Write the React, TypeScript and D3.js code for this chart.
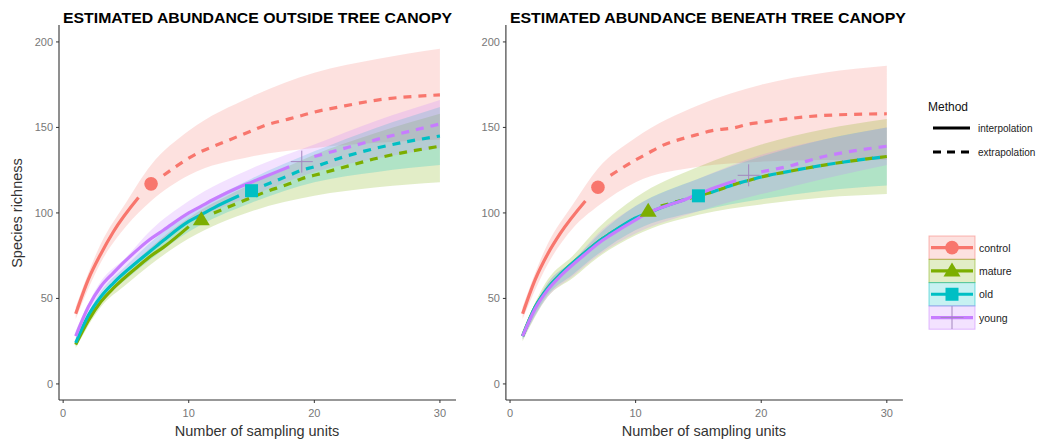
import * as d3 from "d3";

const sites = ["control", "mature", "old", "young"];
const siteColors = ["#F8766D", "#7CAE00", "#00BFC4", "#C77CFF"];
const refUnits = [7, 11, 15, 19];

const xTicks = [0, 10, 20, 30];
const yTicks = [0, 50, 100, 150, 200];

// sampling units where the mean curves were read
const units = [1, 2, 3, 4, 6, 7, 8, 10, 11, 12, 14, 15, 16, 18, 19, 20, 22, 25, 30];

const outControl = [41, 61, 76, 89, 109, 117, 122, 132, 136, 139, 145, 148, 151, 155, 157, 159, 162, 166, 169];
const outMature = [23, 37, 48, 56, 69, 75, 80, 92, 96, 100, 106, 109, 112, 117, 120, 122, 126, 132, 139];
const outOld = [24, 40, 51, 59, 72, 78, 84, 95, 99, 103, 110, 113, 116, 122, 125, 127, 132, 138, 145];
const outYoung = [28, 45, 57, 65, 79, 85, 90, 100, 104, 108, 115, 118, 121, 127, 130, 133, 137, 143, 152];

const inControl = [41, 61, 76, 88, 107, 115, 122, 131, 135, 139, 144, 146, 148, 150, 152, 153, 155, 157, 158];
const inMature = [28, 45, 56, 64, 77, 83, 88, 97, 101, 104, 108, 110, 112, 117, 119, 121, 124, 128, 133];
const inOld = [28, 45, 56, 64, 77, 83, 88, 97, 100, 103, 108, 110, 112, 117, 119, 121, 124, 128, 133];
const inYoung = [28, 44, 55, 63, 76, 82, 87, 96, 100, 103, 108, 111, 114, 119, 122, 124, 127, 133, 139];

// confidence bands
const bandUnits = [1, 3, 5, 7, 10, 15, 20, 25, 30];

const outControlLo = [38, 71, 92, 107, 122, 133, 138, 141, 143];
const outControlHi = [45, 82, 106, 128, 148, 168, 182, 190, 196];
const outMatureLo = [21, 45, 58, 70, 85, 101, 110, 115, 118];
const outMatureHi = [25, 51, 66, 80, 97, 117, 134, 147, 158];
const outOldLo = [22, 48, 61, 73, 89, 106, 118, 124, 128];
const outOldHi = [26, 54, 69, 83, 100, 120, 136, 150, 162];
const outYoungLo = [26, 53, 66, 79, 94, 110, 124, 132, 138];
const outYoungHi = [31, 60, 74, 90, 107, 126, 140, 154, 166];

const inControlLo = [38, 70, 91, 104, 118, 127, 130, 131, 131];
const inControlHi = [45, 82, 105, 126, 144, 163, 175, 182, 186];
const inMatureLo = [25, 51, 62, 74, 87, 99, 105, 109, 111];
const inMatureHi = [31, 61, 75, 91, 109, 127, 140, 149, 155];
const inOldLo = [26, 52, 64, 76, 90, 101, 108, 113, 116];
const inOldHi = [30, 59, 72, 87, 104, 120, 133, 143, 150];
const inYoungLo = [26, 51, 63, 75, 88, 101, 111, 120, 128];
const inYoungHi = [30, 59, 72, 88, 104, 120, 134, 143, 150];

const FONT = "'Liberation Sans', Arial, sans-serif";

function Marker({ i, x, y, legend = false }) {
  const c = siteColors[i];
  if (i === 0) return <circle cx={x} cy={y} r={6.8} fill={c} />;
  if (i === 1)
    return <path d={`M${x - 8.5},${y + 5.5} L${x + 8.5},${y + 5.5} L${x},${y - 8.5} Z`} fill={c} />;
  if (i === 2) return <rect x={x - 6.5} y={y - 6.5} width={13} height={13} fill={c} />;
  const h = legend ? 11.5 : 11;
  return (
    <g stroke="#a386bf" strokeWidth={1}>
      <line x1={x - h} x2={x + h} y1={y} y2={y} />
      <line x1={x} x2={x} y1={y - h} y2={y + h} />
    </g>
  );
}

function Panel({ title, left, titleWidth, means, los, his }) {
  const x = d3.scaleLinear().domain([-0.33, 31.28]).range([left, left + 397]);
  const y = d3.scaleLinear().domain([-9.4, 209.9]).range([400, 25]);

  const line = d3
    .line<[number, number]>()
    .x((d) => x(d[0]))
    .y((d) => y(d[1]))
    .curve(d3.curveMonotoneX);

  const bandPath = (lo, hi) =>
    d3
      .area<number>()
      .x((d, k) => x(bandUnits[k]))
      .y0((d, k) => y(lo[k]))
      .y1((d, k) => y(hi[k]))
      .curve(d3.curveMonotoneX)(lo);

  return (
    <g>
      <text
        x={left + 4}
        y={23}
        fontFamily={FONT}
        fontWeight="bold"
        fontSize={14}
        fill="#000"
        textLength={titleWidth}
        lengthAdjust="spacingAndGlyphs"
      >
        {title}
      </text>

      {sites.map((s, i) => (
        <path key={s} d={bandPath(los[i], his[i])} fill={siteColors[i]} fillOpacity={0.22} />
      ))}

      {sites.map((s, i) => {
        const pts = units.map((u, k) => [u, means[i][k]] as [number, number]);
        const n = refUnits[i];
        return (
          <g key={s} stroke={siteColors[i]} strokeWidth={3.2} fill="none">
            <path d={line(pts.filter((p) => p[0] <= n - 1))} />
            <path d={line(pts.filter((p) => p[0] >= n + 1))} strokeDasharray="8,7" />
          </g>
        );
      })}

      {sites.map((s, i) => {
        const n = refUnits[i];
        const k = units.indexOf(n);
        return <Marker key={s} i={i} x={x(n)} y={y(means[i][k])} />;
      })}

      {/* axes */}
      <line x1={left} x2={left} y1={25} y2={400} stroke="#333" strokeWidth={1.1} />
      <line x1={left} x2={left + 397} y1={400} y2={400} stroke="#333" strokeWidth={1.1} />
      {yTicks.map((t) => (
        <g key={t}>
          <line x1={left - 3} x2={left} y1={y(t)} y2={y(t)} stroke="#333" />
          <text x={left - 6} y={y(t) + 4} textAnchor="end" fontFamily={FONT} fontSize={11} fill="#777">
            {t}
          </text>
        </g>
      ))}
      {xTicks.map((t) => (
        <g key={t}>
          <line x1={x(t)} x2={x(t)} y1={400} y2={403} stroke="#333" />
          <text x={x(t)} y={417} textAnchor="middle" fontFamily={FONT} fontSize={11} fill="#777">
            {t}
          </text>
        </g>
      ))}
      <text x={left + 198} y={436} textAnchor="middle" fontFamily={FONT} fontSize={14.5} fill="#333">
        Number of sampling units
      </text>
    </g>
  );
}

function Legend() {
  const keyTop = 236;
  const keyH = 23.3;
  return (
    <g fontFamily={FONT}>
      <text x={928} y={111} fontSize={12} fill="#111">Method</text>
      <line x1={933} x2={970} y1={128} y2={128} stroke="#000" strokeWidth={3} />
      <text x={978} y={131.5} fontSize={10} fill="#222">interpolation</text>
      <line x1={933} x2={970} y1={152} y2={152} stroke="#000" strokeWidth={3} strokeDasharray="8,6" />
      <text x={978} y={155.5} fontSize={10} fill="#222">extrapolation</text>

      {sites.map((s, i) => {
        const cy = keyTop + keyH * i + keyH / 2;
        return (
          <g key={s}>
            <rect
              x={929}
              y={keyTop + keyH * i}
              width={46}
              height={keyH}
              fill={siteColors[i]}
              fillOpacity={0.22}
              stroke={siteColors[i]}
              strokeOpacity={0.5}
            />
            <line x1={931} x2={973} y1={cy} y2={cy} stroke={siteColors[i]} strokeWidth={3.2} />
            <Marker i={i} x={952} y={cy} legend />
            <text x={979} y={cy + 4} fontSize={10.5} fill="#222">{s}</text>
          </g>
        );
      })}
    </g>
  );
}

export default function App() {
  return (
    <svg
      width={1050}
      height={443}
      style={{ position: "absolute", left: 0, top: 0, background: "#fff" }}
    >
      <rect width={1050} height={443} fill="#fff" />
      <text
        transform="translate(22,213) rotate(-90)"
        textAnchor="middle"
        fontFamily={FONT}
        fontSize={14.5}
        fill="#333"
      >
        Species richness
      </text>
      <Panel
        title="ESTIMATED ABUNDANCE OUTSIDE TREE CANOPY"
        left={59}
        titleWidth={389}
        means={[outControl, outMature, outOld, outYoung]}
        los={[outControlLo, outMatureLo, outOldLo, outYoungLo]}
        his={[outControlHi, outMatureHi, outOldHi, outYoungHi]}
      />
      <Panel
        title="ESTIMATED ABUNDANCE BENEATH TREE CANOPY"
        left={505.9}
        titleWidth={396}
        means={[inControl, inMature, inOld, inYoung]}
        los={[inControlLo, inMatureLo, inOldLo, inYoungLo]}
        his={[inControlHi, inMatureHi, inOldHi, inYoungHi]}
      />
      <Legend />
    </svg>
  );
}
